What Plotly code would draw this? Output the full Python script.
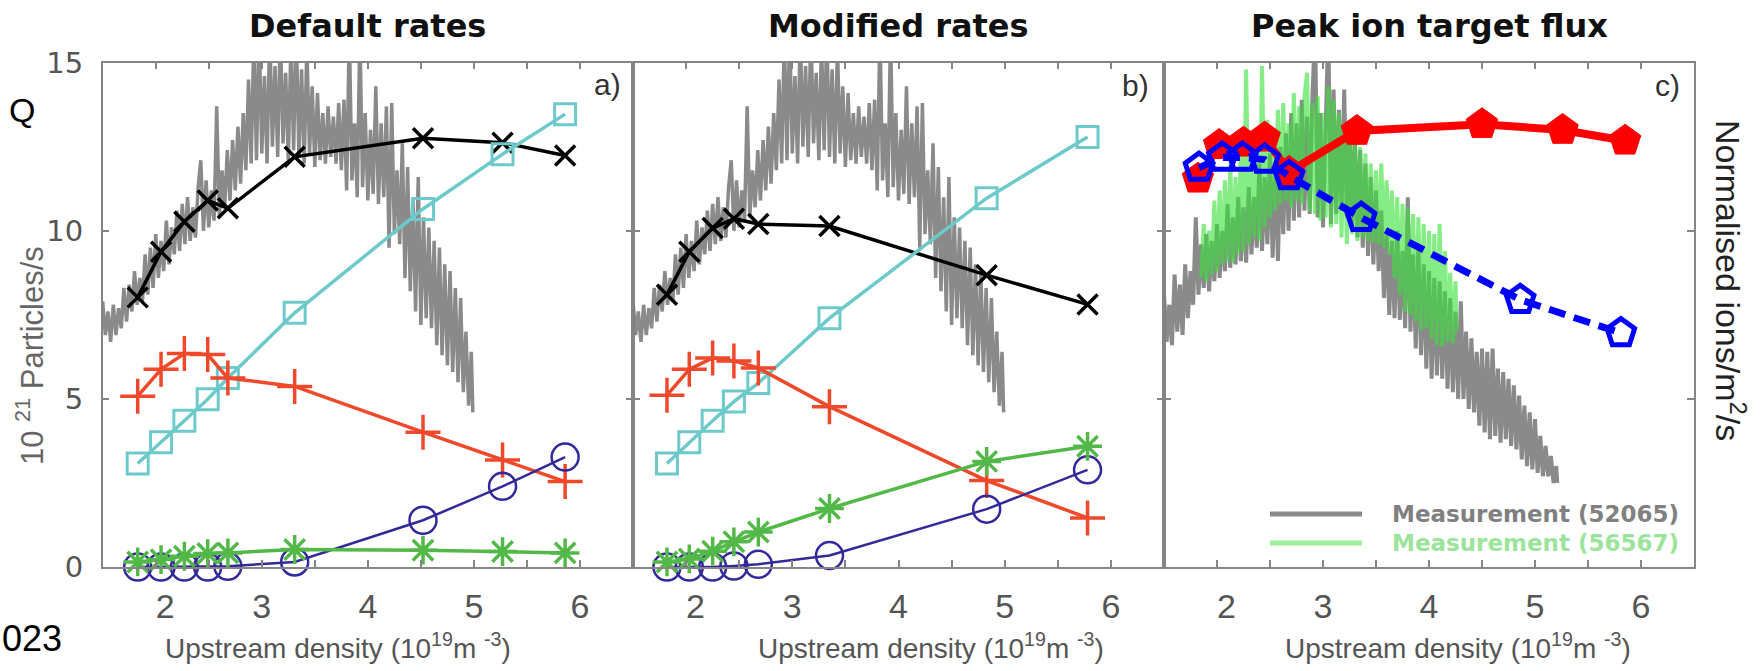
import plotly.graph_objects as go

W, H = 1763, 671

# ---------------- data ----------------
# Panel a) Default rates
xa = [1.83, 2.05, 2.27, 2.49, 2.68, 3.31, 4.52, 5.27, 5.86]
a_black = [8.02, 9.38, 10.27, 10.90, 10.67, 12.20, 12.75, 12.62, 12.24]
a_cyan = [3.08, 3.71, 4.35, 4.99, 5.62, 7.56, 10.65, 12.28, 13.47]
a_red = [5.08, 5.88, 6.35, 6.32, 5.62, 5.37, 4.01, 3.18, 2.54]
a_navy = [0.0, 0.0, 0.0, 0.0, 0.02, 0.15, 1.39, 2.40, 3.27]
a_green = [0.15, 0.22, 0.32, 0.40, 0.42, 0.52, 0.50, 0.46, 0.42]

# Panel b) Modified rates
xb = [1.82, 2.03, 2.25, 2.45, 2.68, 3.35, 4.83, 5.78]
b_black = [8.10, 9.38, 10.08, 10.36, 10.20, 10.14, 8.68, 7.81]
b_cyan = [3.08, 3.71, 4.35, 4.92, 5.47, 7.40, 10.97, 12.79]
b_red = [5.11, 5.88, 6.22, 6.13, 5.92, 4.77, 2.57, 1.46]
b_green = [0.15, 0.24, 0.47, 0.75, 1.04, 1.74, 3.14, 3.59]
b_navy = [0.0, 0.0, 0.0, 0.03, 0.08, 0.34, 1.72, 2.89]

# Panel c) Peak ion target flux
xc_red = [1.82, 2.02, 2.25, 2.45, 2.68, 3.32, 4.50, 5.26, 5.85]
c_red = [11.55, 12.55, 12.62, 12.77, 11.75, 12.97, 13.17, 13.00, 12.68]
xc_blue = [1.83, 2.05, 2.24, 2.45, 2.68, 3.36, 4.86, 5.81]
c_blue = [11.88, 12.18, 12.18, 12.12, 11.63, 10.39, 7.95, 6.96]

# Measured trace shown in panels a) and b)
meas_ab_x = [
    1.500, 1.525, 1.550, 1.575, 1.600, 1.625, 1.650, 1.675, 1.700, 1.725,
    1.750, 1.775, 1.800, 1.825, 1.850, 1.875, 1.900, 1.925, 1.950, 1.975,
    2.000, 2.025, 2.050, 2.075, 2.100, 2.125, 2.150, 2.175, 2.200, 2.225,
    2.250, 2.275, 2.300, 2.325, 2.350, 2.375, 2.400, 2.425, 2.450, 2.475,
    2.500, 2.525, 2.550, 2.575, 2.600, 2.625, 2.650, 2.675, 2.700, 2.725,
    2.750, 2.775, 2.800, 2.825, 2.850, 2.875, 2.900, 2.925, 2.950, 2.975,
    3.000, 3.025, 3.050, 3.075, 3.100, 3.125, 3.150, 3.175, 3.200, 3.225,
    3.250, 3.275, 3.300, 3.325, 3.350, 3.375, 3.400, 3.425, 3.450, 3.475,
    3.500, 3.525, 3.550, 3.575, 3.600, 3.625, 3.650, 3.675, 3.700, 3.725,
    3.750, 3.775, 3.800, 3.825, 3.850, 3.875, 3.900, 3.925, 3.950, 3.975,
    4.000, 4.025, 4.050, 4.075, 4.100, 4.125, 4.150, 4.175, 4.200, 4.225,
    4.250, 4.275, 4.300, 4.325, 4.350, 4.375, 4.400, 4.425, 4.450, 4.475,
    4.500, 4.525, 4.550, 4.575, 4.600, 4.625, 4.650, 4.675, 4.700, 4.725,
    4.750, 4.775, 4.800, 4.825, 4.850, 4.875, 4.900, 4.925, 4.950, 4.975,
    4.990]
meas_ab_y = [
    7.9, 6.9, 7.6, 6.7, 7.8, 6.9, 7.7, 7.1, 8.3, 7.3,
    8.4, 7.6, 8.8, 7.8, 8.6, 7.9, 9.3, 8.1, 9.5, 8.3,
    9.9, 8.6, 9.7, 8.8, 10.3, 9.0, 10.1, 9.3, 10.6, 9.4,
    10.8, 9.6, 11.0, 9.7, 10.7, 9.8, 11.3, 12.1, 10.0, 11.5,
    10.1, 11.2, 10.3, 13.7, 10.4, 11.8, 10.7, 12.4, 10.9, 12.7,
    11.2, 13.1, 11.4, 13.5, 11.8, 14.5, 12.0, 15.8, 12.1, 16.0,
    12.3, 14.6, 12.0, 16.0, 12.5, 14.9, 12.2, 16.0, 12.6, 14.7,
    12.1, 15.6, 12.4, 16.0, 12.2, 14.8, 12.0, 15.5, 12.3, 14.3,
    11.9, 14.1, 12.1, 13.5, 12.0, 13.7, 12.2, 13.4, 12.0, 13.8,
    11.8, 13.9, 11.2, 16.0, 11.5, 13.2, 11.0, 16.0, 11.3, 13.5,
    10.9, 13.0, 11.1, 14.3, 10.8, 13.2, 11.0, 13.7, 9.5, 13.8,
    9.9, 11.8, 9.6, 12.6, 8.6, 11.9, 8.2, 11.0, 7.6, 11.6,
    7.2, 10.4, 7.4, 10.1, 7.1, 9.7, 6.6, 9.5, 6.3, 9.0,
    6.0, 8.8, 5.8, 8.3, 5.5, 8.0, 5.2, 7.0, 4.8, 6.4,
    4.6]

# Measurement (52065) in panel c)
meas_c_x = [
    1.500, 1.525, 1.550, 1.575, 1.600, 1.625, 1.650, 1.675, 1.700, 1.725,
    1.750, 1.775, 1.800, 1.825, 1.850, 1.875, 1.900, 1.925, 1.950, 1.975,
    2.000, 2.025, 2.050, 2.075, 2.100, 2.125, 2.150, 2.175, 2.200, 2.225,
    2.250, 2.275, 2.300, 2.325, 2.350, 2.375, 2.400, 2.425, 2.450, 2.475,
    2.500, 2.525, 2.550, 2.575, 2.600, 2.625, 2.650, 2.675, 2.700, 2.725,
    2.750, 2.775, 2.800, 2.825, 2.850, 2.875, 2.900, 2.925, 2.950, 2.975,
    3.000, 3.025, 3.050, 3.075, 3.100, 3.125, 3.150, 3.175, 3.200, 3.225,
    3.250, 3.275, 3.300, 3.325, 3.350, 3.375, 3.400, 3.425, 3.450, 3.475,
    3.500, 3.525, 3.550, 3.575, 3.600, 3.625, 3.650, 3.675, 3.700, 3.725,
    3.750, 3.775, 3.800, 3.825, 3.850, 3.875, 3.900, 3.925, 3.950, 3.975,
    4.000, 4.025, 4.050, 4.075, 4.100, 4.125, 4.150, 4.175, 4.200, 4.225,
    4.250, 4.275, 4.300, 4.325, 4.350, 4.375, 4.400, 4.425, 4.450, 4.475,
    4.500, 4.525, 4.550, 4.575, 4.600, 4.625, 4.650, 4.675, 4.700, 4.725,
    4.750, 4.775, 4.800, 4.825, 4.850, 4.875, 4.900, 4.925, 4.950, 4.975,
    5.000, 5.025, 5.050, 5.075, 5.100, 5.125, 5.150, 5.175, 5.200,
    5.210]
meas_c_y = [
    8.1, 6.7, 7.8, 6.6, 8.7, 7.0, 8.4, 6.9, 9.0, 7.4,
    8.8, 7.8, 10.4, 8.1, 9.6, 8.3, 9.9, 8.2, 9.7, 8.5,
    10.2, 8.6, 10.0, 8.8, 10.8, 8.9, 10.4, 9.0, 11.0, 9.1,
    10.7, 9.05, 11.3, 9.3, 11.0, 9.5, 12.0, 9.4, 11.6, 9.6,
    12.3, 9.2, 11.9, 9.1, 12.5, 9.9, 12.9, 10.0, 13.5, 10.3,
    13.2, 10.4, 13.9, 10.6, 13.4, 10.5, 14.0, 16.0, 10.4, 13.5,
    10.1, 13.2, 16.0, 10.2, 14.2, 10.5, 13.6, 10.6, 14.2, 10.4,
    13.1, 10.0, 12.9, 9.8, 12.4, 9.5, 12.0, 9.25, 11.6, 9.0,
    11.2, 8.8, 10.6, 8.0, 10.0, 7.5, 9.7, 7.4, 10.0, 7.35,
    9.4, 7.1, 11.0, 7.0, 9.3, 6.5, 9.5, 6.3, 9.0, 5.9,
    8.8, 5.6, 8.6, 5.7, 8.5, 5.6, 8.2, 5.3, 8.0, 5.2,
    7.6, 5.0, 7.9, 5.0, 7.0, 4.7, 6.8, 4.6, 6.4, 4.2,
    6.5, 4.0, 6.4, 3.8, 6.5, 3.9, 5.9, 3.7, 5.8, 3.8,
    5.6, 3.6, 5.4, 3.5, 5.1, 3.2, 4.8, 3.0, 4.6, 2.9,
    4.4, 2.8, 3.9, 2.7, 3.6, 2.7, 3.3, 2.5, 3.0,
    2.5]

# Measurement (56567) in panel c)
meas_g_x = [
    1.850, 1.875, 1.900, 1.925, 1.950, 1.975, 2.000, 2.025, 2.050, 2.075,
    2.100, 2.125, 2.150, 2.175, 2.200, 2.225, 2.250, 2.275, 2.300, 2.325,
    2.350, 2.375, 2.400, 2.425, 2.450, 2.475, 2.500, 2.525, 2.550, 2.575,
    2.600, 2.625, 2.650, 2.675, 2.700, 2.725, 2.750, 2.775, 2.800, 2.825,
    2.850, 2.875, 2.900, 2.925, 2.950, 2.975, 3.000, 3.025, 3.050, 3.075,
    3.100, 3.125, 3.150, 3.175, 3.200, 3.225, 3.250, 3.275, 3.300, 3.325,
    3.350, 3.375, 3.400, 3.425, 3.450, 3.475, 3.500, 3.525, 3.550, 3.575,
    3.600, 3.625, 3.650, 3.675, 3.700, 3.725, 3.750, 3.775, 3.800, 3.825,
    3.850, 3.875, 3.900, 3.925, 3.950, 3.975, 4.000, 4.025, 4.050, 4.075,
    4.100, 4.125, 4.150, 4.175, 4.200, 4.225, 4.250,
    4.260]
meas_g_y = [
    8.6, 10.2, 8.5, 10.0, 8.7, 10.9, 8.8, 11.2, 9.0, 11.5,
    9.1, 12.0, 9.05, 11.6, 9.3, 12.4, 9.4, 14.8, 9.6, 12.9,
    9.8, 13.0, 9.7, 14.9, 10.1, 13.3, 10.4, 12.8, 10.6, 13.6,
    10.8, 13.8, 10.9, 13.2, 10.7, 14.1, 10.9, 13.7, 10.8, 14.0,
    14.7, 10.6, 13.8, 10.5, 14.0, 10.3, 13.5, 10.4, 14.3, 10.1,
    13.9, 10.2, 13.5, 9.8, 13.2, 9.6, 13.0, 9.9, 12.6, 9.7,
    12.5, 9.8, 12.3, 9.7, 12.0, 9.65, 11.8, 9.6, 12.0, 9.5,
    11.5, 9.3, 11.2, 8.6, 11.0, 8.1, 10.8, 7.6, 10.7, 7.5,
    10.5, 7.3, 10.4, 7.05, 10.2, 7.1, 10.0, 6.8, 9.9, 6.6,
    10.2, 6.55, 9.4, 6.7, 8.75, 6.65, 8.5,
    7.0]

x_tickvals = [2, 2.5, 3, 3.5, 4, 4.5, 5, 5.5, 6]
x_ticktext = ["\u20072", "", "3", "", "4", "", "5", "", "6"]
y_tickvals = [0, 5, 10, 15]
y_ticktext = ["0", "5", "10", "15"]

titles = ["Default rates", "Modified rates", "Peak ion target flux"]
panel_tags = ["a)", "b)", "c)"]
xlabel = "Upstream density (10<sup>19</sup>m <sup>-3</sup>)"
ylabel_left = "10 <sup>21</sup> Particles/s"
ylabel_right = "Normalised ions/m<sup>2</sup>/s"
legend_names = ["Measurement (52065)", "Measurement (56567)"]

# ---------------- styling ----------------
C_BLACK = "#000000"
C_CYAN = "#6ecaca"
C_RED = "#f0482a"
C_NAVY = "#34299a"
C_GREEN = "#52b948"
C_MEAS = "rgba(128,128,128,0.92)"
C_MEAS_G = "rgba(60,225,60,0.62)"
AXC = "#858585"
TXT = "#555555"
SANS = "Liberation Sans, Arial, sans-serif"

# pixel geometry of panels
PX_L = [102.7, 633.0, 1164.0]
PX_R = [633.0, 1164.0, 1694.0]
PY_T, PY_B = 62.7, 567.0
XLABEL_SHIFT = [-30, 33, 29]


def px(x):
    return x / W


def py(y):
    return 1 - y / H


fig = go.Figure()


def add(ax, x, y, **kw):
    s = "" if ax == 1 else str(ax)
    fig.add_trace(go.Scatter(x=x, y=y, xaxis="x" + s, yaxis="y" + s,
                             showlegend=False, hoverinfo="skip", **kw))


def series_set(ax, xs, black, cyan, red, navy, green):
    add(ax, xs, black, mode="lines+markers", cliponaxis=False,
        line=dict(color=C_BLACK, width=3.5),
        marker=dict(symbol="x-thin", size=20, line=dict(color=C_BLACK, width=3.5)))
    add(ax, xs, cyan, mode="lines+markers", cliponaxis=False,
        line=dict(color=C_CYAN, width=3.5),
        marker=dict(symbol="square-open", size=21, color=C_CYAN, line=dict(color=C_CYAN, width=3)))
    add(ax, xs, red, mode="lines+markers", cliponaxis=False,
        line=dict(color=C_RED, width=3.5),
        marker=dict(symbol="cross-thin", size=25, line=dict(color=C_RED, width=3.5)))
    add(ax, xs, navy, mode="lines+markers", cliponaxis=False,
        line=dict(color=C_NAVY, width=2.5),
        marker=dict(symbol="circle-open", size=27, color=C_NAVY, line=dict(color=C_NAVY, width=2.5)))
    add(ax, xs, green, mode="lines+markers", cliponaxis=False,
        line=dict(color=C_GREEN, width=3.5),
        marker=dict(symbol="asterisk-open", size=24, color=C_GREEN, line=dict(color=C_GREEN, width=3.5)))


# panel a
add(1, meas_ab_x, meas_ab_y, mode="lines", line=dict(color=C_MEAS, width=3.5))
series_set(1, xa, a_black, a_cyan, a_red, a_navy, a_green)
# panel b
add(2, meas_ab_x, meas_ab_y, mode="lines", line=dict(color=C_MEAS, width=3.5))
series_set(2, xb, b_black, b_cyan, b_red, b_navy, b_green)
# panel c
add(3, meas_c_x, meas_c_y, mode="lines", line=dict(color=C_MEAS, width=4))
add(3, meas_g_x, meas_g_y, mode="lines", line=dict(color=C_MEAS_G, width=4))
add(3, xc_red, c_red, mode="lines+markers", cliponaxis=False,
    line=dict(color="#ff0000", width=8),
    marker=dict(symbol="pentagon", size=33, color="#ff0000", line=dict(color="#ff0000", width=1)))
add(3, xc_blue, c_blue, mode="lines+markers", cliponaxis=False,
    line=dict(color="#0000ff", width=7, dash="17px,9px"),
    marker=dict(symbol="pentagon-open", size=29, color="#0000ff", line=dict(color="#0000ff", width=5)))

layout = dict(
    width=W, height=H, autosize=False,
    margin=dict(l=0, r=0, t=0, b=0, pad=0, autoexpand=False),
    paper_bgcolor="white", plot_bgcolor="white",
    showlegend=False,
)

for i in range(3):
    s = "" if i == 0 else str(i + 1)
    layout["xaxis" + s] = dict(
        domain=[px(PX_L[i]), px(PX_R[i])], anchor="y" + s, range=[1.5, 6.5],
        tickmode="array", tickvals=x_tickvals, ticktext=x_ticktext,
        ticks="inside", ticklen=7, tickwidth=1.5, tickcolor=AXC,
        showline=True, linecolor=AXC, linewidth=1.5, mirror="ticks",
        showgrid=False, zeroline=False, ticklabelstandoff=8, automargin=False,
        tickfont=dict(family=SANS, size=34, color=TXT),
    )
    layout["yaxis" + s] = dict(
        domain=[py(PY_B), py(PY_T)], anchor="x" + s, range=[0, 15],
        tickmode="array", tickvals=y_tickvals, ticktext=y_ticktext,
        showticklabels=(i == 0),
        ticks="inside", ticklen=7, tickwidth=1.5, tickcolor=AXC,
        showline=True, linecolor=AXC, linewidth=1.5, mirror="ticks",
        showgrid=False, zeroline=False, ticklabelstandoff=12, automargin=False,
        tickfont=dict(family="DejaVu Sans", size=29, color=TXT),
    )

fig.update_layout(**layout)

ann = []
for i in range(3):
    cx = (PX_L[i] + PX_R[i]) / 2
    ann.append(dict(x=px(cx), y=py(26), xref="paper", yref="paper", text="<b>%s</b>" % titles[i],
                    showarrow=False, xanchor="center", yanchor="middle",
                    font=dict(family="DejaVu Sans", size=32, color="#111111")))
    ann.append(dict(x=px(cx + XLABEL_SHIFT[i]), y=py(646), xref="paper", yref="paper", text=xlabel,
                    showarrow=False, xanchor="center", yanchor="middle",
                    font=dict(family=SANS, size=28, color=TXT)))

tag_pos = [(607, 84), (1135, 85), (1667, 86)]
for t, (x0, y0) in zip(panel_tags, tag_pos):
    ann.append(dict(x=px(x0), y=py(y0), xref="paper", yref="paper", text=t, showarrow=False,
                    xanchor="center", yanchor="middle",
                    font=dict(family=SANS, size=30, color="#333333")))

ann.append(dict(x=px(30), y=py(356), xref="paper", yref="paper", text=ylabel_left, showarrow=False,
                textangle=-90, xanchor="center", yanchor="middle",
                font=dict(family=SANS, size=31, color="#666666")))
ann.append(dict(x=px(1731), y=py(280), xref="paper", yref="paper", text=ylabel_right, showarrow=False,
                textangle=90, xanchor="center", yanchor="middle",
                font=dict(family=SANS, size=34, color="#222222")))
ann.append(dict(x=px(22), y=py(110), xref="paper", yref="paper", text="Q", showarrow=False,
                xanchor="center", yanchor="middle",
                font=dict(family=SANS, size=34, color="#000000")))
ann.append(dict(x=px(0), y=py(638), xref="paper", yref="paper", text="023", showarrow=False,
                xanchor="left", yanchor="middle",
                font=dict(family=SANS, size=36, color="#000000")))

# legend (panel c)
leg_rows = [514, 543]
leg_cols = ["#808080", "#9be49b"]
leg_line = ["rgba(128,128,128,0.92)", "rgba(60,225,60,0.5)"]
shapes = []
for name, yy, tc, lc in zip(legend_names, leg_rows, leg_cols, leg_line):
    shapes.append(dict(type="line", xref="paper", yref="paper", x0=px(1270), x1=px(1362),
                       y0=py(yy), y1=py(yy), line=dict(color=lc, width=5)))
    ann.append(dict(x=px(1390), y=py(yy), xref="paper", yref="paper", text="<b>%s</b>" % name,
                    showarrow=False, xanchor="left", yanchor="middle",
                    font=dict(family="DejaVu Sans", size=23, color=tc)))

fig.update_layout(annotations=ann, shapes=shapes)
fig.write_html("out.html")
